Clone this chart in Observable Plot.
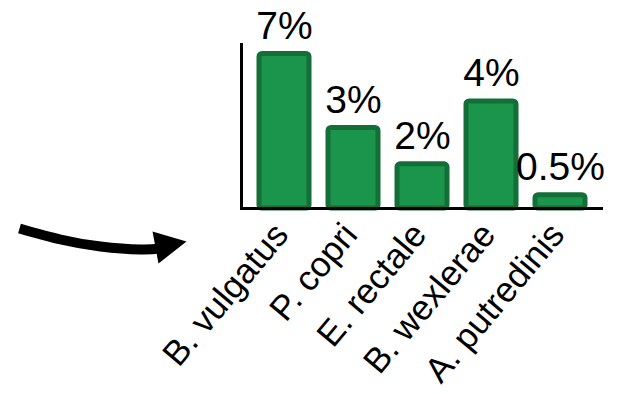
<!DOCTYPE html>
<html>
<head>
<meta charset="utf-8">
<script src="https://cdn.jsdelivr.net/npm/d3@7"></script>
<script src="https://cdn.jsdelivr.net/npm/@observablehq/plot@0.6"></script>
<style>
  html, body { margin: 0; padding: 0; background: #ffffff; color: #000; }
  #wrap { position: relative; width: 638px; height: 394px; }
  #wrap svg { position: absolute; left: 0; top: 0; }
</style>
</head>
<body>
<div id="wrap"></div>
<script>
// Categories (species) and their bar heights (percent, as drawn)
const categories = ["B. vulgatus", "P. copri", "E. rectale", "B. wexlerae", "A. putredinis"];
const barHeights = [7, 3.65, 2.0, 4.85, 0.6];
const valueLabels = ["7%", "3%", "2%", "4%", "0.5%"];

// Curved annotation arrow (in page coordinate units)
const arrowShaftX = [19, 60, 100, 140, 160];
const arrowShaftY = [228, 239, 246, 249, 248];
const arrowHeadX = [152, 186, 158];
const arrowHeadY = [231, 241, 263];

const data = categories.map((c, i) => ({species: c, h: barHeights[i], label: valueLabels[i]}));
const shaft = arrowShaftX.map((x, i) => ({x, y: arrowShaftY[i]}));
const head = arrowHeadX.map((x, i) => ({x, y: arrowHeadY[i]}));

const font = "'Liberation Sans', Arial, Helvetica, sans-serif";

const chart = Plot.plot({
  width: 638,
  height: 394,
  marginLeft: 241,
  marginRight: 35,
  marginTop: 44,
  marginBottom: 186,
  style: {fontFamily: font, background: "#ffffff", color: "#000"},
  x: {domain: categories, paddingInner: 0.275, paddingOuter: 0.26, label: null},
  y: {domain: [0, 7.43], axis: null},
  marks: [
    Plot.barY(data, {x: "species", y: "h", fill: "#1b954b", stroke: "#136f37", strokeWidth: 5, rx: 3}),
    Plot.text(data, {x: "species", y: "h", text: "label", dy: -15, lineAnchor: "bottom", fontSize: 39, fill: "#000"}),
    Plot.ruleY([0], {strokeWidth: 3, stroke: "#000"}),
    Plot.frame({anchor: "left", strokeWidth: 3, stroke: "#000"}),
    Plot.axisX({tickSize: 0, tickRotate: -50, tickPadding: 20, dx: -3, fontSize: 35, label: null})
  ]
});

const arrow = Plot.plot({
  width: 638,
  height: 394,
  margin: 0,
  style: {background: "transparent"},
  x: {domain: [0, 638], range: [0, 638], axis: null},
  y: {domain: [0, 394], range: [0, 394], axis: null},
  marks: [
    Plot.line(shaft, {x: "x", y: "y", curve: "natural", stroke: "#000", strokeWidth: 10, strokeLinecap: "butt"}),
    Plot.line(head, {x: "x", y: "y", fill: "#000", stroke: "none"})
  ]
});

const wrap = document.getElementById("wrap");
wrap.appendChild(chart);
wrap.appendChild(arrow);
</script>
</body>
</html>
